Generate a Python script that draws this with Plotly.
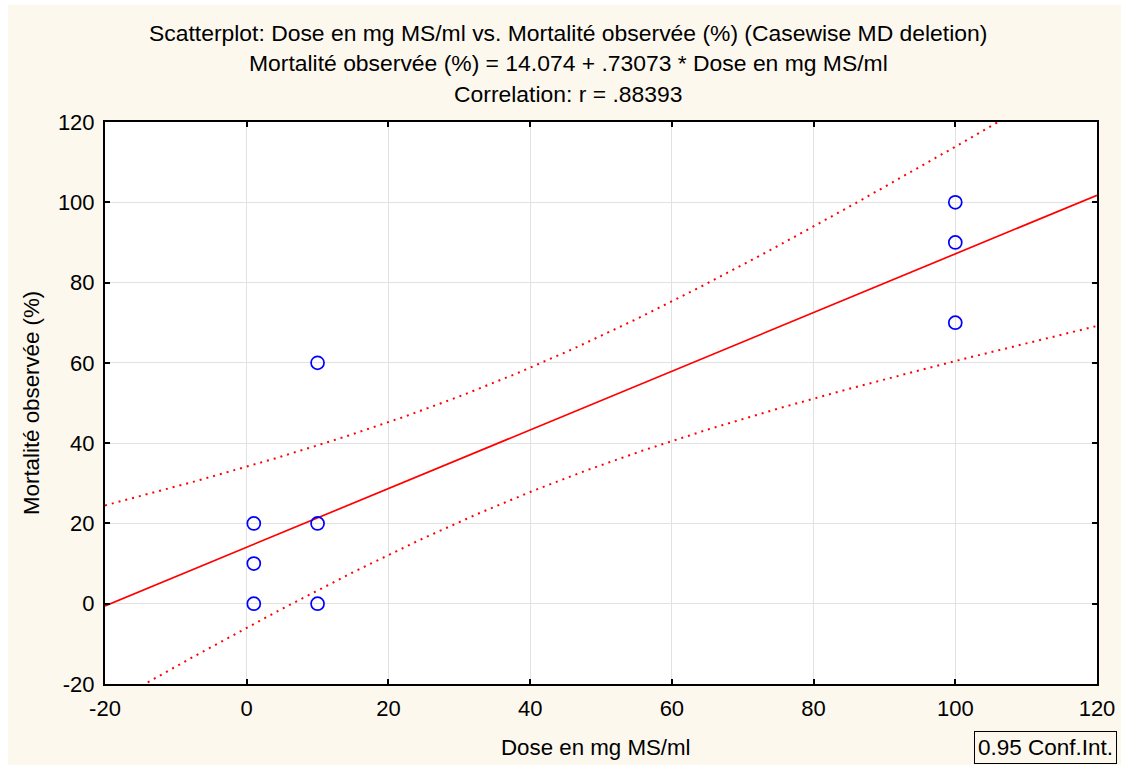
import numpy as np
import plotly.graph_objects as go

# Observations
dose = [1, 1, 1, 10, 10, 10, 100, 100, 100]
mortality = [0, 10, 20, 0, 20, 60, 70, 90, 100]

# Fitted coefficients as printed in the header
intercept = 14.074
slope = 0.73073
r_value = ".88393"

x_ticks = [-20, 0, 20, 40, 60, 80, 100, 120]
y_ticks = [-20, 0, 20, 40, 60, 80, 100, 120]

# 95% confidence band for the mean response (Student t, df = n - 2)
x = np.array(dose, dtype=float)
y = np.array(mortality, dtype=float)
n = len(x)
t_crit = 2.364624  # t(0.975, 7)
fitted = intercept + slope * x
s = np.sqrt(np.sum((y - fitted) ** 2) / (n - 2))
sxx = np.sum((x - x.mean()) ** 2)
xg = np.linspace(-20, 120, 281)
yg = intercept + slope * xg
half = t_crit * s * np.sqrt(1.0 / n + (xg - x.mean()) ** 2 / sxx)

FONT = "Liberation Sans, Arial, sans-serif"
CREAM = "#FDF8EE"
W, H = 1121, 765
plot_top, plot_bottom, plot_left, plot_right = 122, 684, 105, 1097
ph = plot_bottom - plot_top
pw = plot_right - plot_left


def px_x(v):
    return (v - plot_left) / pw


def px_y(v):
    return (plot_bottom - v) / ph


fig = go.Figure()
for band in (yg + half, yg - half):
    fig.add_trace(go.Scatter(x=xg, y=band, mode="lines",
                             line=dict(color="#FF0000", width=2, dash="2px,5px"),
                             hoverinfo="skip", showlegend=False))
fig.add_trace(go.Scatter(x=[-20, 120], y=[intercept + slope * -20, intercept + slope * 120],
                         mode="lines", line=dict(color="#FF0000", width=1.7),
                         showlegend=False))
fig.add_trace(go.Scatter(x=dose, y=mortality, mode="markers",
                         marker=dict(symbol="circle-open", size=13,
                                     color="#0000FF", line=dict(width=1.7, color="#0000FF")),
                         showlegend=False, cliponaxis=False))

axis_common = dict(
    showline=True, linecolor="black", linewidth=2, mirror="allticks",
    ticks="inside", ticklen=5, tickwidth=2, tickcolor="black",
    showgrid=True, gridcolor="#E2E2E2", gridwidth=1.3,
    zeroline=False, automargin=False,
    tickfont=dict(family=FONT, size=22, color="black"),
)

fig.update_xaxes(range=[-20, 120], tickvals=x_ticks, ticktext=[str(v) for v in x_ticks],
                 ticklabelstandoff=4, **axis_common)
fig.update_yaxes(range=[-20, 120], tickvals=y_ticks, ticktext=[str(v) for v in y_ticks],
                 ticklabelstandoff=4, **axis_common)

title_lines = [
    "Scatterplot: Dose en mg MS/ml vs. Mortalité observée (%) (Casewise MD deletion)",
    f"Mortalité observée (%) = {intercept:.3f} + {f'{slope:.5f}'.lstrip('0')} * Dose en mg MS/ml",
    f"Correlation: r = {r_value}",
]
title_y_px = [33, 63, 94]
annotations = []
for text, ypx in zip(title_lines, title_y_px):
    annotations.append(dict(
        text=text, xref="paper", yref="paper",
        x=px_x(568), y=px_y(ypx),
        xanchor="center", yanchor="middle", showarrow=False,
        font=dict(family=FONT, size=22.9, color="black")))

# axis titles
annotations.append(dict(
    text="Dose en mg MS/ml", xref="paper", yref="paper",
    x=px_x(596), y=px_y(747), xanchor="center", yanchor="middle", showarrow=False,
    font=dict(family=FONT, size=22.3, color="black")))
annotations.append(dict(
    text="Mortalité observée (%)", xref="paper", yref="paper", textangle=-90,
    x=px_x(31), y=px_y(403), xanchor="center", yanchor="middle", showarrow=False,
    font=dict(family=FONT, size=22.3, color="black")))

annotations.append(dict(
    text="0.95 Conf.Int.", xref="paper", yref="paper",
    x=px_x(1117), y=px_y(731),
    xanchor="right", yanchor="top", showarrow=False,
    bordercolor="black", borderwidth=1, borderpad=3, bgcolor=CREAM,
    font=dict(family=FONT, size=22.5, color="black")))

# thin white edges at the top and left of the page
shapes = [
    dict(type="rect", xref="paper", yref="paper", layer="below",
         x0=px_x(0), x1=px_x(W), y0=px_y(5), y1=px_y(0),
         fillcolor="white", line=dict(width=0)),
    dict(type="rect", xref="paper", yref="paper", layer="below",
         x0=px_x(0), x1=px_x(8), y0=px_y(H), y1=px_y(0),
         fillcolor="white", line=dict(width=0)),
]

fig.update_layout(
    width=W, height=H, autosize=False,
    margin=dict(l=plot_left, r=W - plot_right, t=plot_top, b=H - plot_bottom),
    paper_bgcolor=CREAM, plot_bgcolor="white",
    annotations=annotations, shapes=shapes,
    font=dict(family=FONT, color="black"),
)

fig.write_html("out.html", config={"responsive": False, "displayModeBar": False})
